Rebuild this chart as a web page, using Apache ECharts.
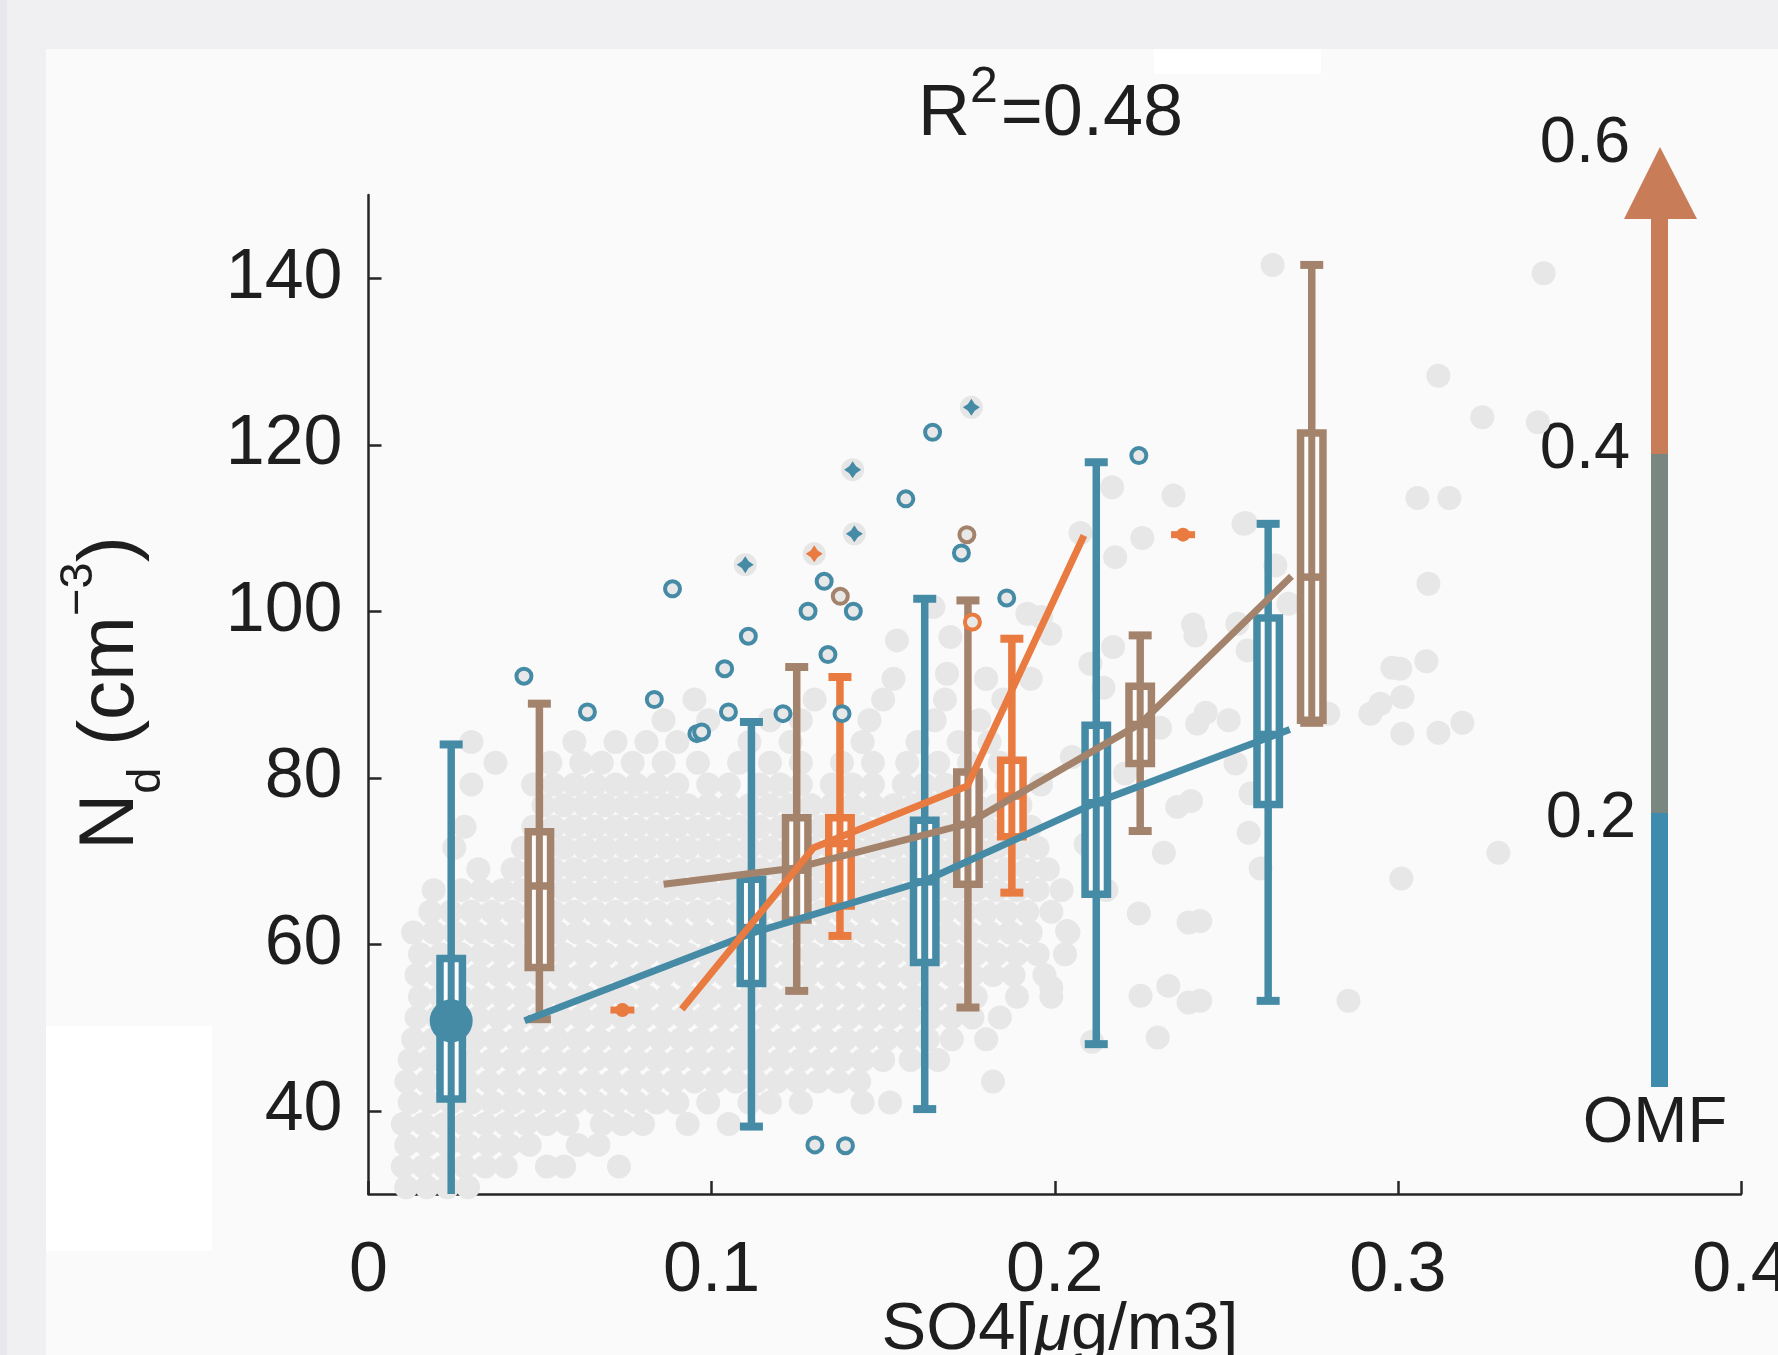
<!DOCTYPE html>
<html>
<head>
<meta charset="utf-8">
<script src="https://cdn.jsdelivr.net/npm/echarts@6/dist/echarts.min.js"></script>
<style>
html, body { margin: 0; padding: 0; background: #f0f0f3; }
#chart { width: 1778px; height: 1355px; }
</style>
</head>
<body>
<div id="chart"></div>
<script>
// ticks
var xTicks = [0, 0.1, 0.2, 0.3, 0.4];
var yTicks = [40, 60, 80, 100, 120, 140];
var omfTicks = ['0.2', '0.4', '0.6'];

// box stats per bin: [SO4, min, q1, median, q3, max]
var blueBoxes = [
	[0.0241, 29.0, 41.4, 50.8, 58.3, 84.0],
	[0.1116, 38.1, 55.3, 62.0, 67.8, 86.7],
	[0.1621, 40.2, 57.8, 67.5, 74.9, 101.5],
	[0.2121, 48.0, 66.0, 77.0, 86.3, 117.9],
	[0.2622, 53.2, 76.8, 85.2, 99.2, 110.5]
];
var brownBoxes = [
	[0.0498, 51.0, 57.2, 67.0, 73.5, 88.9],
	[0.1248, 54.4, 62.9, 68.9, 75.2, 93.3],
	[0.1747, 52.4, 67.2, 74.4, 80.7, 101.3],
	[0.2249, 73.6, 81.7, 86.4, 91.0, 97.1],
	[0.2749, 86.6, 86.9, 104.1, 121.4, 141.6]
];
var orangeBoxes = [
	[0.1374, 61.0, 64.6, 72.1, 75.2, 92.1],
	[0.1875, 66.2, 72.9, 77.8, 82.1, 96.7]
];

// trend lines
var blueTrend = [[0.0455, 50.8], [0.1115, 61.3], [0.162, 67.6], [0.2125, 77.1], [0.2685, 85.8]];
var brownTrend = [[0.086, 67.2], [0.125, 69.2], [0.1747, 74.5], [0.2249, 86.5], [0.269, 104.2]];
var orangeTrend = [[0.0913, 52.2], [0.1297, 71.6], [0.1745, 79.0], [0.2085, 109.1]];

var blueMean = [[0.0241, 50.8]];
var orangeSingles = [[0.0740, 52.1], [0.2374, 109.2]];

// outliers
var blueOutliers = [
	[0.0453, 92.2], [0.0638, 87.9], [0.0833, 89.4], [0.0886, 102.7], [0.0957, 85.3], [0.0971, 85.5],
	[0.1038, 93.1], [0.1049, 87.9], [0.1107, 97.0], [0.1208, 87.7], [0.1281, 100.0], [0.1328, 103.6],
	[0.1339, 94.8], [0.1380, 87.7], [0.1413, 100.0], [0.1566, 113.5], [0.1644, 121.5], [0.1728, 107.0],
	[0.1860, 101.6], [0.2245, 118.7], [0.1301, 35.9], [0.1390, 35.8]
];
var brownOutliers = [[0.1375, 101.8], [0.1744, 109.2]];
var orangeOutliers = [[0.1760, 98.7]];
var blueStars = [[0.1757, 124.5], [0.1411, 117.0], [0.1416, 109.3], [0.1098, 105.6]];
var orangeStars = [[0.1299, 106.9]];

// grey cloud of all samples, row by row: [Nd, [SO4 in 1/1000 ug/m3 ...]]
var cloudRows = [
	[30.8, [11, 17, 23, 29]],
	[33.3, [10, 16, 22, 28, 34, 40, 52, 57, 73]],
	[35.9, [11, 17, 23, 29, 35, 41, 47, 61, 67]],
	[38.4, [10, 16, 22, 28, 34, 40, 46, 52, 58, 68, 74, 80, 93, 105]],
	[41.0, [12, 18, 24, 30, 36, 42, 48, 54, 60, 66, 72, 78, 84, 90, 99, 111, 117, 126, 144, 152]],
	[43.5, [11, 17, 23, 29, 35, 41, 47, 53, 59, 65, 71, 77, 83, 89, 95, 101, 107, 113, 119, 125, 131, 137, 143, 182]],
	[46.1, [12, 18, 24, 30, 36, 42, 48, 54, 60, 66, 72, 78, 84, 90, 96, 102, 108, 114, 120, 126, 132, 138, 144, 150, 158, 166]],
	[48.6, [13, 19, 25, 31, 37, 43, 49, 55, 61, 67, 73, 79, 85, 91, 97, 103, 109, 115, 121, 127, 133, 139, 145, 151, 157, 163, 170, 180]],
	[51.2, [14, 20, 26, 32, 38, 44, 50, 56, 62, 68, 74, 80, 86, 92, 98, 104, 110, 116, 122, 128, 134, 140, 146, 152, 158, 164, 170, 176, 184]],
	[53.7, [15, 21, 27, 33, 39, 45, 51, 57, 63, 69, 75, 81, 87, 93, 99, 105, 111, 117, 123, 129, 135, 141, 147, 153, 159, 165, 171, 177, 189, 199]],
	[56.3, [14, 20, 26, 32, 38, 44, 50, 56, 62, 68, 74, 80, 86, 92, 98, 104, 110, 116, 122, 128, 134, 140, 146, 152, 158, 164, 170, 176, 182, 188, 197]],
	[58.8, [15, 21, 27, 33, 39, 45, 51, 57, 63, 69, 75, 81, 87, 93, 99, 105, 111, 117, 123, 129, 135, 141, 147, 153, 159, 165, 171, 177, 183, 189, 195, 203]],
	[61.4, [13, 19, 25, 31, 37, 43, 49, 55, 61, 67, 73, 79, 85, 91, 97, 103, 109, 115, 121, 127, 133, 139, 145, 151, 157, 163, 169, 175, 181, 187, 193, 204]],
	[63.9, [18, 24, 30, 36, 42, 48, 54, 60, 66, 72, 78, 84, 90, 96, 102, 108, 114, 120, 126, 132, 138, 144, 150, 156, 162, 168, 174, 180, 186, 192, 199]],
	[66.5, [19, 27, 33, 39, 45, 51, 57, 63, 69, 75, 81, 87, 93, 99, 105, 111, 117, 123, 129, 135, 141, 147, 153, 159, 165, 171, 177, 183, 189, 195, 202]],
	[69.0, [32, 42, 48, 54, 60, 66, 72, 78, 84, 90, 96, 102, 108, 114, 120, 126, 132, 138, 144, 150, 156, 162, 168, 174, 180, 186, 192, 198]],
	[71.6, [25, 45, 51, 57, 63, 69, 75, 81, 87, 93, 99, 105, 111, 117, 123, 129, 135, 141, 147, 153, 159, 165, 171, 177, 183, 189, 195]],
	[74.1, [28, 48, 54, 60, 66, 72, 78, 84, 90, 96, 102, 108, 114, 120, 126, 132, 138, 144, 150, 156, 162, 168, 174, 180, 186, 193]],
	[76.7, [51, 57, 63, 69, 75, 81, 87, 93, 99, 105, 111, 117, 123, 129, 135, 141, 147, 153, 159, 165, 171, 177, 183, 190]],
	[79.2, [30, 48, 54, 60, 66, 72, 78, 84, 90, 99, 105, 114, 120, 126, 135, 141, 147, 156, 162, 168, 177, 186, 196]],
	[81.8, [37, 53, 62, 68, 77, 86, 96, 108, 117, 126, 138, 147, 157, 166, 175, 184]],
	[84.3, [30, 60, 72, 81, 90, 111, 123, 144, 160, 172, 181]],
	[86.9, [86, 99, 117, 126, 146, 165, 178]],
	[89.4, [95, 130, 150, 168, 185]],
	[91.9, [153, 180, 193]]
];
var cloudExtra = [
	[0.2635, 141.6], [0.3425, 140.6], [0.3118, 128.3], [0.3246, 123.3], [0.3408, 122.7],
	[0.3057, 113.6], [0.3150, 113.6], [0.2556, 110.6], [0.3089, 103.3], [0.2643, 105.5],
	[0.2681, 100.9], [0.2532, 98.5], [0.2984, 93.2], [0.3007, 93.1], [0.3083, 94.0],
	[0.2949, 88.9], [0.2920, 87.7], [0.3013, 89.7], [0.2797, 87.7], [0.2507, 86.9],
	[0.3188, 86.6], [0.3118, 85.4], [0.3013, 85.3], [0.2527, 81.7], [0.2571, 78.1],
	[0.2565, 73.4], [0.2600, 69.1], [0.2424, 62.8], [0.2424, 53.2], [0.3293, 71.0],
	[0.3010, 67.9], [0.2856, 53.2],
	[0.1646, 100.5], [0.1540, 96.5], [0.1696, 96.9], [0.1686, 92.5], [0.1800, 91.9],
	[0.1920, 99.7], [0.1960, 99.3], [0.1987, 97.3], [0.2075, 109.4], [0.2167, 114.9],
	[0.2176, 106.5], [0.2255, 108.8], [0.2346, 113.9], [0.2550, 110.5], [0.2170, 95.7],
	[0.2104, 93.7], [0.2410, 97.1], [0.2415, 86.5], [0.2307, 86.0], [0.2142, 90.8],
	[0.2403, 98.4], [0.2562, 95.3], [0.2440, 87.8], [0.2397, 77.2], [0.2357, 76.5],
	[0.2245, 63.7], [0.2318, 71.0], [0.2390, 62.6], [0.2250, 53.8], [0.2390, 53.0],
	[0.2300, 48.8], [0.2036, 61.6], [0.1990, 54.8], [0.2109, 48.3], [0.2331, 55.0],
	[0.2050, 82.5], [0.2090, 72.0], [0.2150, 66.5], [0.2205, 80.5]
];

var cloud = [];
cloudRows.forEach(function (row) { row[1].forEach(function (x) { cloud.push([x / 1000, row[0]]) }) });
cloud = cloud.concat(cloudExtra);

var FONT = '"Liberation Sans", Arial, Helvetica, sans-serif';
var INK = '#1e1e1e', AXIS = '#262626', GREY = '#e7e7e7';
var BLUE = '#468ba6', BROWN = '#a4836c', ORANGE = '#e97a40';
var CB_BLUE = '#3e8bad', CB_GREY = '#7a8781', CB_ORANGE = '#c87c58';

var ctx2d = document.createElement('canvas').getContext('2d');
function measure(t, size, italic) { ctx2d.font = (italic ? 'italic ' : '') + size + 'px ' + FONT; return ctx2d.measureText(t).width }
function runText(parts, x0) { var x = x0
	return parts.map(function (p) {
		var font = (p.italic ? 'italic ' : '') + p.size + 'px ' + FONT
		var el = {type: 'text', x: x, y: p.dy || 0, style: {text: p.t, font: font, fill: INK, align: 'left', verticalAlign: 'middle', textAlign: 'left', textVerticalAlign: 'middle'}}
		x += measure(p.t, p.size, p.italic) + (p.gap || 0); return el
	})
}
function textWidth(parts) { return parts.reduce(function (s, p) { return s + measure(p.t, p.size, p.italic) + (p.gap || 0) }, 0) }

function boxSeries(data, color) {
	return {type: 'custom', data: data, z: 3, clip: true, silent: true, encode: {x: 0, y: [1, 2, 3, 4, 5]},
		renderItem: function (params, api) {
			var x = api.value(0)
			var lo = api.coord([x, api.value(1)]), q1 = api.coord([x, api.value(2)]), md = api.coord([x, api.value(3)])
			var q3 = api.coord([x, api.value(4)]), hi = api.coord([x, api.value(5)])
			var cx = md[0], half = 11.2, cap = 11.5
			function seg(x1, y1, x2, y2, w) { return {type: 'line', shape: {x1: x1, y1: y1, x2: x2, y2: y2}, style: {stroke: color, lineWidth: w}} }
			return {type: 'group', children: [
				seg(cx, hi[1], cx, lo[1], 7.5),
				{type: 'rect', shape: {x: cx - half, y: q3[1], width: 2 * half, height: q1[1] - q3[1]}, style: {fill: '#fcfcfc', stroke: color, lineWidth: 7.5}},
				seg(cx, q3[1], cx, q1[1], 7),
				seg(cx - half, md[1], cx + half, md[1], 7.5),
				seg(cx - cap, hi[1], cx + cap, hi[1], 8),
				seg(cx - cap, lo[1], cx + cap, lo[1], 8)
			]}
		}
	}
}
function trend(data, color) { return {type: 'line', data: data, z: 4, symbol: 'none', showSymbol: false, silent: true, lineStyle: {color: color, width: 7, opacity: 1}} }
function ring(data, color) { return {type: 'scatter', data: data, z: 5, silent: true, symbol: 'circle', symbolSize: 15, itemStyle: {color: '#e8e8e8', borderColor: color, borderWidth: 4, opacity: 1}} }
var STAR = 'path://M0,-10 L4,-4 L10,0 L4,4 L0,10 L-4,4 L-10,0 L-4,-4 Z'

var titleParts = [{t: 'R', size: 72}, {t: '2', size: 50, dy: -27, gap: 3}, {t: '=0.48', size: 72}]
var yNameParts = [{t: 'N', size: 78}, {t: 'd', size: 47, dy: 36}, {t: ' (cm', size: 78}, {t: '\u22123', size: 47, dy: -32}, {t: ')', size: 78}]
var xNameParts = [{t: 'SO4[', size: 67}, {t: '\u03bc', size: 67, italic: true}, {t: 'g/m3]', size: 67}]

var graphic = [
	{type: 'rect', z: -10, shape: {x: 0, y: 0, width: 7, height: 1355}, style: {fill: '#e7e7ed'}},
	{type: 'rect', z: -10, shape: {x: 46, y: 49, width: 1732, height: 1306}, style: {fill: '#fafafa'}},
	{type: 'rect', z: -9, shape: {x: 1154, y: 49, width: 167, height: 25}, style: {fill: '#ffffff'}},
	{type: 'rect', z: -9, shape: {x: 46, y: 1026, width: 166, height: 225}, style: {fill: '#ffffff'}},
	{type: 'group', x: 918, y: 115, children: runText(titleParts, 0)},
	{type: 'group', x: 111, y: 850, rotation: Math.PI / 2, children: runText(yNameParts, 0)},
	{type: 'group', x: 1060 - textWidth(xNameParts) / 2, y: 1331, children: runText(xNameParts, 0)},
	// OMF colour bar
	{type: 'rect', shape: {x: 1651, y: 813, width: 17, height: 274}, style: {fill: CB_BLUE}},
	{type: 'rect', shape: {x: 1651, y: 454, width: 17, height: 359}, style: {fill: CB_GREY}},
	{type: 'rect', shape: {x: 1651, y: 216, width: 17, height: 238}, style: {fill: CB_ORANGE}},
	{type: 'polygon', shape: {points: [[1624, 219], [1697, 219], [1660, 147]]}, style: {fill: CB_ORANGE}}
]
var omfPos = [[1591, 819], [1585, 450], [1585, 144]]
omfTicks.forEach(function (t, i) {
	graphic.push({type: 'text', x: omfPos[i][0], y: omfPos[i][1], style: {text: t, font: '65px ' + FONT, fill: INK, align: 'center', verticalAlign: 'middle', textAlign: 'center', textVerticalAlign: 'middle'}})
})
graphic.push({type: 'text', x: 1655, y: 1124, style: {text: 'OMF', font: '65px ' + FONT, fill: INK, align: 'center', verticalAlign: 'middle', textAlign: 'center', textVerticalAlign: 'middle'}})

var chart = echarts.init(document.getElementById('chart'), null, {renderer: 'canvas'})
chart.setOption({
	backgroundColor: '#f0f0f3', animation: false,
	grid: {left: 368.5, right: 37, top: 195, bottom: 161, containLabel: false, outerBoundsMode: 'none'},
	xAxis: {type: 'value', min: 0, max: 0.4, interval: 0.1,
		axisLine: {show: true, onZero: false, lineStyle: {color: AXIS, width: 2.5}},
		axisTick: {show: true, inside: true, length: 13, lineStyle: {color: AXIS, width: 2.5}},
		axisLabel: {show: true, margin: 43, fontSize: 70, fontFamily: FONT, color: INK, showMinLabel: true, showMaxLabel: true,
			formatter: function (v) { var i = xTicks.indexOf(Math.round(v * 10) / 10); return i < 0 ? '' : String(xTicks[i]) }},
		splitLine: {show: false}},
	yAxis: {type: 'value', min: 30, max: 150,
		axisLine: {show: true, onZero: false, lineStyle: {color: AXIS, width: 2.5}},
		axisTick: {show: true, inside: true, length: 13, customValues: yTicks, lineStyle: {color: AXIS, width: 2.5}},
		axisLabel: {show: true, margin: 26, fontSize: 70, fontFamily: FONT, color: INK, customValues: yTicks},
		splitLine: {show: false}},
	graphic: graphic,
	series: [
		{type: 'scatter', data: cloud, z: 1, silent: true, symbolSize: 24, itemStyle: {color: GREY, opacity: 1}},
		{type: 'scatter', data: blueStars.concat(orangeStars), z: 1, silent: true, symbolSize: 23, itemStyle: {color: '#e6e6e6', opacity: 1}},
		boxSeries(blueBoxes, BLUE), boxSeries(brownBoxes, BROWN), boxSeries(orangeBoxes, ORANGE),
		trend(blueTrend, BLUE), trend(brownTrend, BROWN), trend(orangeTrend, ORANGE),
		{type: 'scatter', data: orangeSingles, z: 5, silent: true, symbol: 'circle', symbolSize: 14, itemStyle: {color: ORANGE, opacity: 1}},
		{type: 'scatter', data: orangeSingles, z: 5, silent: true, symbol: 'rect', symbolSize: [24, 7], itemStyle: {color: ORANGE, opacity: 1}},
		ring(blueOutliers, BLUE), ring(brownOutliers, BROWN), ring(orangeOutliers, ORANGE),
		{type: 'scatter', data: blueStars, z: 5, silent: true, symbol: STAR, symbolSize: 17, itemStyle: {color: BLUE, opacity: 1}},
		{type: 'scatter', data: orangeStars, z: 5, silent: true, symbol: STAR, symbolSize: 17, itemStyle: {color: ORANGE, opacity: 1}},
		{type: 'scatter', data: blueMean, z: 6, silent: true, symbol: 'circle', symbolSize: 43, itemStyle: {color: BLUE, opacity: 1}}
	]
})
</script>
</body>
</html>
